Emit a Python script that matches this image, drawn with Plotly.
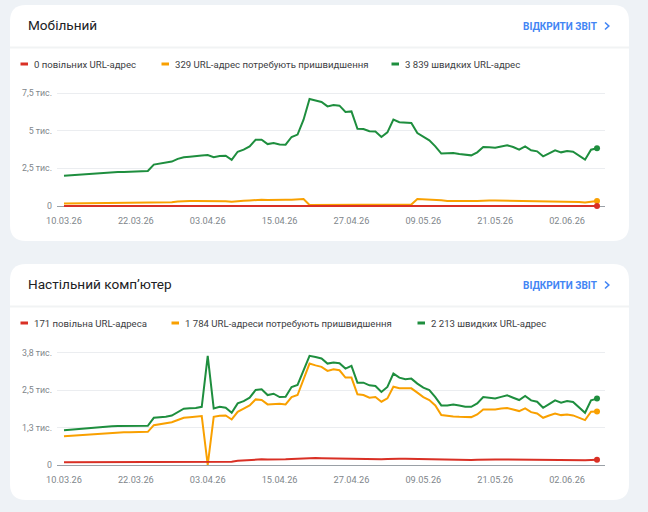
import pandas as pd
import plotly.graph_objects as go

# ---------------- data ----------------
dates = pd.date_range("2026-03-10", periods=90, freq="D")

x_tick_vals = ["2026-03-10", "2026-03-22", "2026-04-03", "2026-04-15",
               "2026-04-27", "2026-05-09", "2026-05-21", "2026-06-02"]
x_tick_text = ["10.03.26", "22.03.26", "03.04.26", "15.04.26",
               "27.04.26", "09.05.26", "21.05.26", "02.06.26"]

mob_y_ticks = [0, 2500, 5000, 7500]
mob_y_text = ["0", "2,5 тис.", "5 тис.", "7,5 тис."]
desk_y_ticks = [0, 1250, 2500, 3750]
desk_y_text = ["0", "1,3 тис.", "2,5 тис.", "3,8 тис."]

mob_slow = [0, 0, 0, 0, 0, 0, 0, 0, 0, 0,
            0, 0, 0, 0, 0, 0, 0, 0, 0, 0,
            0, 0, 0, 0, 0, 0, 0, 0, 0, 0,
            0, 0, 0, 0, 0, 0, 0, 0, 0, 0,
            0, 0, 0, 0, 0, 0, 0, 0, 0, 0,
            0, 0, 0, 0, 0, 0, 0, 0, 0, 0,
            0, 0, 0, 0, 0, 0, 0, 0, 0, 0,
            0, 0, 0, 0, 0, 0, 0, 0, 0, 0,
            0, 0, 0, 0, 0, 0, 0, 0, 0, 0]
mob_improve = [160, 163, 166, 169, 172, 175, 178, 181, 184, 187,
               190, 193, 196, 198, 200, 220, 230, 240, 250, 300,
               330, 330, 335, 340, 330, 320, 330, 320, 280, 330,
               350, 370, 400, 410, 400, 390, 400, 410, 420, 430,
               465, 70, 70, 72, 75, 75, 78, 80, 80, 82,
               85, 85, 88, 90, 90, 92, 95, 95, 98, 465,
               450, 430, 410, 380, 330, 320, 330, 340, 330, 340,
               376, 370, 365, 360, 355, 350, 345, 340, 320, 300,
               295, 300, 300, 295, 290, 280, 260, 230, 290, 329]
mob_fast = [2010, 2040, 2070, 2100, 2130, 2160, 2190, 2210, 2230, 2250,
            2260, 2270, 2280, 2290, 2320, 2750, 2800, 2850, 2950, 3130,
            3230, 3270, 3290, 3350, 3380, 3240, 3320, 3340, 3060, 3600,
            3740, 3960, 4400, 4400, 4110, 4180, 4080, 4070, 4580, 4740,
            5730, 7100, 7000, 6900, 6610, 6700, 6660, 6240, 6280, 5130,
            5110, 4960, 4950, 4580, 4890, 5730, 5560, 5510, 5510, 4840,
            4580, 4360, 3960, 3480, 3500, 3517, 3450, 3384, 3362, 3561,
            3915, 3900, 3871, 3950, 4026, 3915, 3738, 3960, 3694, 3627,
            3296, 3500, 3694, 3561, 3650, 3606, 3340, 3075, 3738, 3839]

desk_slow = [90, 91, 92, 93, 94, 95, 96, 97, 98, 99,
             100, 101, 102, 103, 104, 106, 108, 110, 112, 114,
             116, 118, 120, 122, 125, 126, 128, 128, 112, 140,
             155, 170, 185, 190, 185, 180, 180, 190, 200, 210,
             225, 235, 232, 228, 222, 215, 210, 205, 200, 198,
             195, 192, 190, 188, 200, 215, 212, 210, 205, 200,
             195, 190, 185, 175, 172, 170, 170, 168, 168, 175,
             185, 185, 185, 183, 180, 178, 175, 172, 170, 165,
             162, 165, 165, 163, 160, 160, 158, 160, 165, 171]
desk_improve = [960, 975, 990, 1000, 1015, 1030, 1045, 1060, 1070, 1080,
                1090, 1095, 1100, 1105, 1105, 1328, 1360, 1390, 1428, 1500,
                1574, 1590, 1610, 1630, 0, 1607, 1640, 1650, 1518, 1774,
                1880, 1986, 2187, 2165, 2020, 2040, 2042, 2020, 2265, 2332,
                2857, 3381, 3320, 3270, 3136, 3192, 3158, 2913, 2913, 2355,
                2332, 2243, 2265, 2109, 2221, 2611, 2556, 2556, 2556, 2411,
                2265, 2165, 1986, 1663, 1630, 1620, 1607, 1600, 1596, 1685,
                1853, 1853, 1853, 1880, 1897, 1850, 1797, 1886, 1763, 1719,
                1574, 1650, 1719, 1663, 1685, 1652, 1580, 1496, 1774, 1784]
desk_fast = [1160, 1180, 1200, 1220, 1240, 1255, 1270, 1285, 1295, 1300,
             1305, 1305, 1305, 1305, 1305, 1574, 1590, 1607, 1650, 1760,
             1875, 1890, 1900, 1940, 3638, 1886, 1940, 1908, 1740, 2053,
             2131, 2243, 2500, 2522, 2332, 2377, 2265, 2276, 2600, 2667,
             3136, 3638, 3600, 3549, 3381, 3415, 3393, 3214, 3303, 2745,
             2745, 2656, 2634, 2433, 2600, 3047, 2913, 2857, 2879, 2712,
             2578, 2500, 2265, 1986, 1986, 2020, 1986, 1940, 1940, 2053,
             2265, 2240, 2221, 2270, 2321, 2243, 2165, 2299, 2154, 2109,
             1908, 2030, 2154, 2076, 2131, 2098, 1920, 1740, 2154, 2213]

card_titles = ["Мобільний", "Настільний комп’ютер"]
link_text = "ВІДКРИТИ ЗВІТ"
mob_legend = ["0 повільних URL-адрес",
              "329 URL-адрес потребують пришвидшення",
              "3 839 швидких URL-адрес"]
desk_legend = ["171 повільна URL-адреса",
               "1 784 URL-адреси потребують пришвидшення",
               "2 213 швидких URL-адрес"]

# ---------------- style ----------------
W, H = 648, 512
BG = "#eef2f6"
RED, ORANGE, GREEN = "#d93025", "#f9a000", "#1e8e3e"
FONT = "Roboto"
TICK_COLOR = "#80868b"


def px(v):
    return v / W


def py(v):
    return 1 - v / H


def rounded_path(x0, y0, x1, y1, r):
    pts = lambda a, b: f"{px(a)},{py(b)}"
    return (f"M {pts(x0 + r, y0)} L {pts(x1 - r, y0)} Q {pts(x1, y0)} {pts(x1, y0 + r)} "
            f"L {pts(x1, y1 - r)} Q {pts(x1, y1)} {pts(x1 - r, y1)} "
            f"L {pts(x0 + r, y1)} Q {pts(x0, y1)} {pts(x0, y1 - r)} "
            f"L {pts(x0, y0 + r)} Q {pts(x0, y0)} {pts(x0 + r, y0)} Z")


fig = go.Figure()

series = [
    ("x", "y", mob_fast, GREEN), ("x", "y", mob_improve, ORANGE), ("x", "y", mob_slow, RED),
    ("x2", "y2", desk_fast, GREEN), ("x2", "y2", desk_improve, ORANGE), ("x2", "y2", desk_slow, RED),
]
for xa, ya, vals, col in series:
    fig.add_trace(go.Scatter(x=dates, y=vals, mode="lines", xaxis=xa, yaxis=ya,
                             line=dict(color=col, width=2), hoverinfo="skip",
                             showlegend=False))
for xa, ya, vals, col in series:
    fig.add_trace(go.Scatter(x=[dates[-1]], y=[vals[-1]], mode="markers", xaxis=xa, yaxis=ya,
                             marker=dict(color=col, size=6), hoverinfo="skip",
                             showlegend=False, cliponaxis=False))

x_range = ["2026-03-08 20:00", "2026-06-08 08:00"]
x_dom = [px(57), px(605)]

common_x = dict(type="date", range=x_range, domain=x_dom, tickmode="array",
                tickvals=x_tick_vals, ticktext=x_tick_text, showgrid=False,
                zeroline=False, showline=False, ticks="", automargin=False,
                tickfont=dict(family=FONT, size=9.2, color=TICK_COLOR),
                ticklabelstandoff=5, fixedrange=True)
common_y = dict(showgrid=True, gridcolor="#ebedf0", gridwidth=1, zeroline=True,
                zerolinecolor="#9aa0a6", zerolinewidth=1, showline=False, ticks="",
                automargin=False,
                tickfont=dict(family=FONT, size=8.8, color=TICK_COLOR),
                ticklabelstandoff=4, fixedrange=True, tickmode="array")

fig.update_layout(
    width=W, height=H, margin=dict(l=0, r=0, t=0, b=0, pad=0, autoexpand=False),
    paper_bgcolor=BG, plot_bgcolor="rgba(0,0,0,0)",
    xaxis=dict(anchor="y", **common_x),
    xaxis2=dict(anchor="y2", **common_x),
    yaxis=dict(anchor="x", domain=[py(209), py(90)], range=[-199, 7699],
               tickvals=mob_y_ticks, ticktext=mob_y_text, **common_y),
    yaxis2=dict(anchor="x2", domain=[py(468), py(349.5)], range=[-100, 3850],
                tickvals=desk_y_ticks, ticktext=desk_y_text, **common_y),
    hovermode=False,
)

shapes = []
annotations = []
legend_x = [[32, 173, 403], [32, 183, 429]]
for i, off in enumerate([0, 259]):
    # card
    shapes.append(dict(type="path", xref="paper", yref="paper", layer="below",
                       path=rounded_path(10, 5 + off, 629, 241 + off, 16),
                       fillcolor="white", line=dict(width=0)))
    # divider
    shapes.append(dict(type="line", xref="paper", yref="paper", layer="below",
                       x0=px(10), x1=px(629), y0=py(47.5 + off), y1=py(47.5 + off),
                       line=dict(color="#f1f3f4", width=2)))
    # title
    annotations.append(dict(text=card_titles[i], xref="paper", yref="paper",
                            x=px(26), y=py(24.5 + off), xanchor="left", yanchor="middle",
                            showarrow=False,
                            font=dict(family=FONT, size=13.6, color="#202124")))
    # link
    annotations.append(dict(text=f"<b>{link_text}</b>", xref="paper", yref="paper",
                            x=px(599), y=py(26 + off), xanchor="right", yanchor="middle",
                            showarrow=False,
                            font=dict(family=FONT, size=10, color="#4285f4")))
    shapes.append(dict(type="path", xref="paper", yref="paper",
                       path=f"M {px(605)},{py(22.5 + off)} L {px(608.8)},{py(26 + off)} L {px(605)},{py(29.5 + off)}",
                       line=dict(color="#4285f4", width=1.6)))
    # legend
    labels = mob_legend if i == 0 else desk_legend
    for lx, lab, col in zip(legend_x[i], labels, [RED, ORANGE, GREEN]):
        shapes.append(dict(type="line", xref="paper", yref="paper",
                           x0=px(lx - 11.5), x1=px(lx - 4), y0=py(64 + off), y1=py(64 + off),
                           line=dict(color=col, width=3)))
        annotations.append(dict(text=lab, xref="paper", yref="paper",
                                x=px(lx), y=py(64 + off), xanchor="left", yanchor="middle",
                                showarrow=False,
                                font=dict(family=FONT, size=9.6, color="#3c4043")))

fig.update_layout(shapes=shapes, annotations=annotations)
fig.write_html("out.html")
